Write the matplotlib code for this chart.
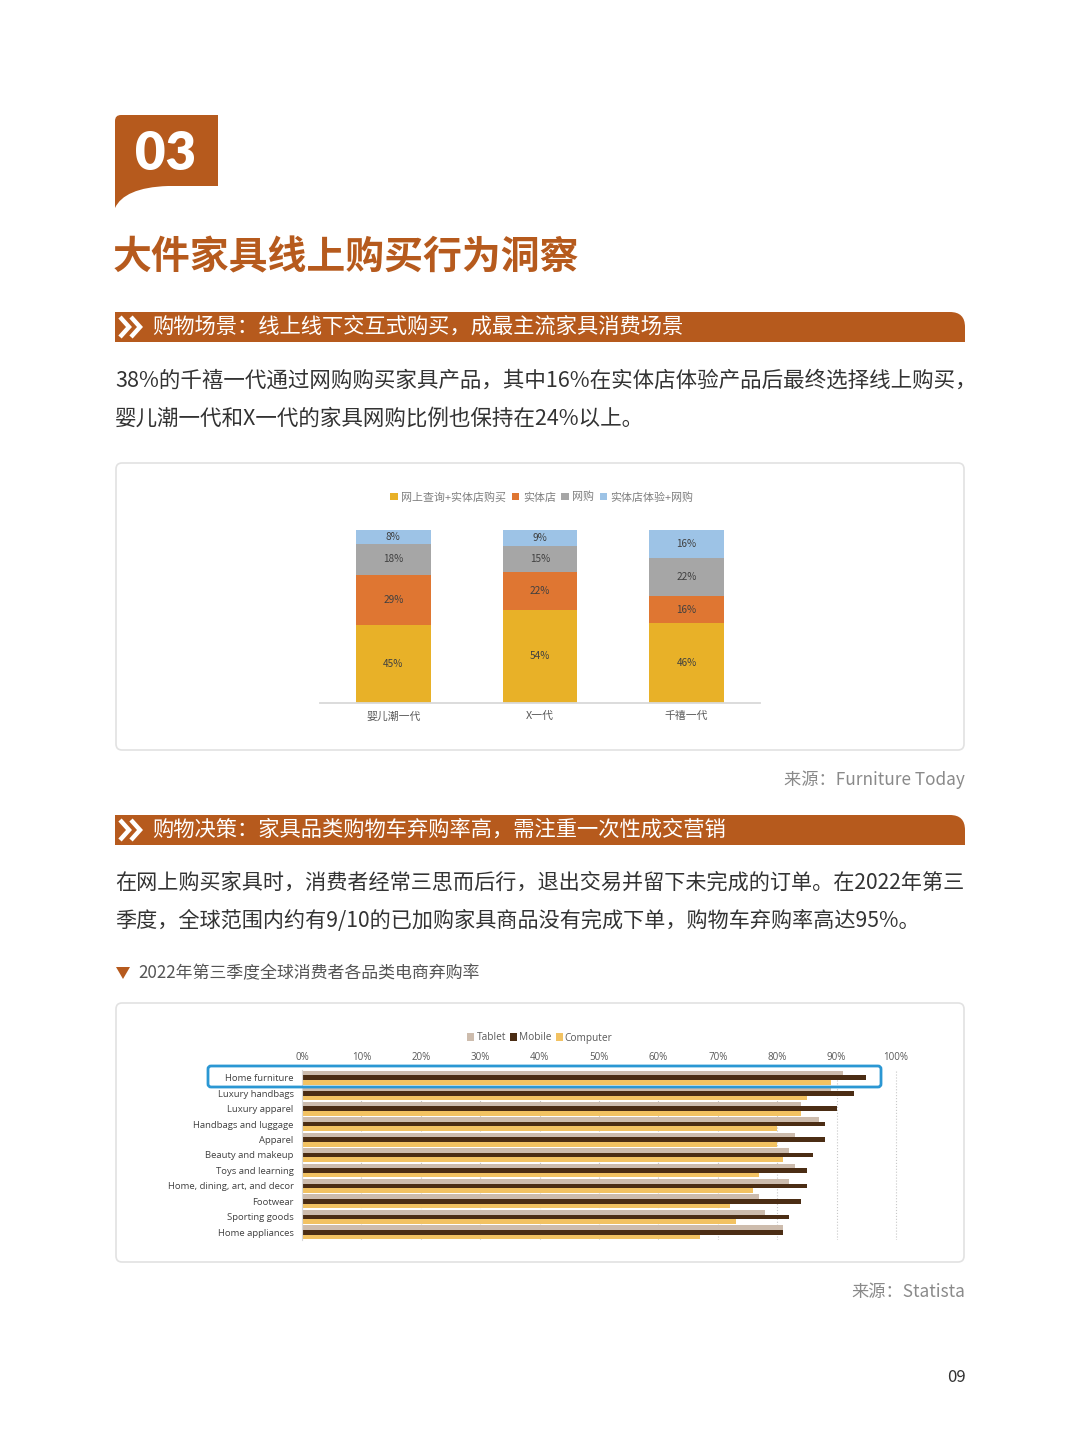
import numpy as np
import matplotlib
matplotlib.use("Agg")
import matplotlib.pyplot as plt
from matplotlib.patches import FancyBboxPatch, PathPatch, Polygon
from matplotlib.path import Path

plt.rcParams['font.family'] = ['Noto Sans CJK SC', 'DejaVu Sans']

# Размер страницы в пикселях
W, H = 1080, 1455
ACCENT = '#B65A1D'

# Данные первой диаграммы (доли, %)
generations = ['婴儿潮一代', 'X一代', '千禧一代']
series1_names = ['网上查询+实体店购买', '实体店', '网购', '实体店体验+网购']
search_then_store = [45, 54, 46]
store_only = [29, 22, 16]
online_only = [18, 15, 22]
store_then_online = [8, 9, 16]
series1_colors = ['#E8B128', '#DF7632', '#A6A6A6', '#9DC3E6']

# Данные второй диаграммы (доля брошенных корзин, %)
categories = ['Home furniture', 'Luxury handbags', 'Luxury apparel', 'Handbags and luggage',
              'Apparel', 'Beauty and makeup', 'Toys and learning', 'Home, dining, art, and decor',
              'Footwear', 'Sporting goods', 'Home appliances']
tablet = [91, 89, 84, 87, 83, 82, 83, 82, 77, 78, 81]
mobile = [95, 93, 90, 88, 88, 86, 85, 85, 84, 82, 81]
computer = [89, 85, 84, 80, 80, 81, 77, 76, 72, 73, 67]
devices = ['Tablet', 'Mobile', 'Computer']
device_colors = ['#CDBCAD', '#4B2D14', '#F2C262']
ticks2 = list(range(0, 101, 10))


def px_axes(fig, x0, y0, x1, y1, **kw):
    """Оси по пиксельным координатам страницы (y сверху вниз)."""
    return fig.add_axes([x0 / W, 1 - y1 / H, (x1 - x0) / W, (y1 - y0) / H], **kw)


def section_bar(ax, y0, text):
    # Полоса заголовка раздела со скруглённым правым верхним углом
    y1 = y0 + 30
    verts = [(115, y0), (950, y0), (965, y0), (965, y0 + 15), (965, y1), (115, y1), (115, y0)]
    codes = [Path.MOVETO, Path.LINETO, Path.CURVE3, Path.CURVE3, Path.LINETO, Path.LINETO, Path.CLOSEPOLY]
    ax.add_patch(PathPatch(Path(verts, codes), fc=ACCENT, ec='none'))
    # Двойная стрелка »
    for x0 in (120, 131):
        ax.plot([x0, x0 + 9, x0], [y0 + 5, y0 + 15, y0 + 25], color='white', lw=3.2,
                solid_joinstyle='miter', solid_capstyle='butt')
    ax.text(152, y0 + 15, text, color='white', fontsize=15.3, weight='medium', va='center', ha='left')


fig = plt.figure(figsize=(W / 100, H / 100), dpi=100)
fig.patch.set_facecolor('white')

# Фоновые оси для всего оформления страницы
bg = px_axes(fig, 0, 0, W, H)
bg.set_xlim(0, W)
bg.set_ylim(H, 0)
bg.axis('off')

# Вкладка "03"
verts = [(115, 121), (115, 115), (121, 115), (218, 115), (218, 186), (168, 186),
         (138, 187), (121, 195), (115, 208), (115, 121)]
codes = [Path.MOVETO, Path.CURVE3, Path.CURVE3, Path.LINETO, Path.LINETO, Path.LINETO,
         Path.CURVE4, Path.CURVE4, Path.CURVE4, Path.CLOSEPOLY]
bg.add_patch(PathPatch(Path(verts, codes), fc=ACCENT, ec='none'))
bg.text(165, 154, '03', color='white', fontsize=38, weight='heavy', family=['Lato', 'DejaVu Sans'],
        ha='center', va='center')

bg.text(113, 258, '大件家具线上购买行为洞察', color=ACCENT, fontsize=28, weight='bold', va='center')

section_bar(bg, 312, '购物场景：线上线下交互式购买，成最主流家具消费场景')
bg.text(115, 381, '38%的千禧一代通过网购购买家具产品，其中16%在实体店体验产品后最终选择线上购买，',
        fontsize=15.5, weight='medium', color='#333333', va='center')
bg.text(115, 419, '婴儿潮一代和X一代的家具网购比例也保持在24%以上。',
        fontsize=15.5, weight='medium', color='#333333', va='center')

# Рамки диаграмм
for y0, y1 in [(463, 750), (1003, 1262)]:
    bg.add_patch(FancyBboxPatch((116, y0), 848, y1 - y0, boxstyle='round,pad=0,rounding_size=6',
                                fc='white', ec='#E2E2E2', lw=1.2))

bg.text(965, 780, '来源：Furniture Today', fontsize=12.4, color='#8A8A8A', ha='right', va='center')

section_bar(bg, 815, '购物决策：家具品类购物车弃购率高，需注重一次性成交营销')
bg.text(115, 883, '在网上购买家具时，消费者经常三思而后行，退出交易并留下未完成的订单。在2022年第三',
        fontsize=15.2, weight='medium', color='#333333', va='center')
bg.text(115, 921, '季度，全球范围内约有9/10的已加购家具商品没有完成下单，购物车弃购率高达95%。',
        fontsize=15.2, weight='medium', color='#333333', va='center')

bg.add_patch(Polygon([(116, 967), (130, 967), (123, 979)], closed=True, fc=ACCENT, ec='none'))
bg.text(138, 973, '2022年第三季度全球消费者各品类电商弃购率', fontsize=12.2, color='#555555', va='center')

bg.text(965, 1292, '来源：Statista', fontsize=12.4, color='#8A8A8A', ha='right', va='center')
bg.text(966, 1377, '09', fontsize=12, color='#333333', ha='right', va='center')

# Диаграмма 1: структура покупок по поколениям
ax1 = px_axes(fig, 320, 530, 760, 703)
x = np.arange(len(generations))
bottom = np.zeros(len(generations))
for vals, name, col in zip([search_then_store, store_only, online_only, store_then_online],
                           series1_names, series1_colors):
    ax1.bar(x, vals, bottom=bottom, width=0.51, color=col, label=name)
    for xi, b, v in zip(x, bottom, vals):
        ax1.text(xi, b + v / 2, f'{v}%', ha='center', va='center', fontsize=7.2, color='#404040')
    bottom += np.array(vals)
ax1.set_xlim(-0.5, 2.5)
ax1.set_ylim(0, 100)
for s in ['top', 'right', 'left']:
    ax1.spines[s].set_visible(False)
ax1.spines['bottom'].set_color('#D9D9D9')
ax1.spines['bottom'].set_linewidth(1.3)
ax1.set_yticks([])
ax1.set_xticks(x, generations)
ax1.tick_params(axis='x', length=0, pad=6, labelsize=7.8, labelcolor='#595959')
ax1.patch.set_alpha(0)
h1, l1 = ax1.get_legend_handles_labels()
fig.legend(h1, l1, loc='center', bbox_to_anchor=(542 / W, 1 - 497 / H), ncol=4, frameon=False,
           fontsize=7.9, labelcolor='#7F7F7F', handlelength=0.7, handleheight=0.7,
           handletextpad=0.3, columnspacing=0.5)

# Диаграмма 2: брошенные корзины по категориям
ax2 = px_axes(fig, 302, 1070, 899, 1240)
y = np.arange(len(categories))
for vals, name, col, off in zip([tablet, mobile, computer], devices, device_colors, [-0.3, 0, 0.3]):
    ax2.barh(y + off, vals, height=0.3, color=col, label=name, zorder=2)
ax2.set_xlim(0, 100.5)
ax2.set_ylim(len(categories) - 0.5, -0.5)
ax2.xaxis.tick_top()
ax2.set_xticks(ticks2, [f'{t}%' for t in ticks2])
ax2.set_yticks(y, categories)
ax2.tick_params(axis='x', length=0, pad=5, labelsize=7, labelcolor='#595959')
ax2.tick_params(axis='y', length=0, pad=6, labelsize=6.8, labelcolor='#404040')
for lab in ax2.get_xticklabels() + ax2.get_yticklabels():
    lab.set_family(['Open Sans', 'DejaVu Sans'])
ax2.grid(axis='x', ls=':', color='#C8C8C8', lw=0.8)
ax2.set_axisbelow(True)
for s in ['top', 'right', 'bottom']:
    ax2.spines[s].set_visible(False)
ax2.spines['left'].set_color('#D8D8D8')
ax2.patch.set_alpha(0)
h2, l2 = ax2.get_legend_handles_labels()
fig.legend(h2, l2, loc='center', bbox_to_anchor=(540 / W, 1 - 1038 / H), ncol=3, frameon=False,
           labelcolor='#595959', handlelength=0.7, handleheight=0.7,
           handletextpad=0.2, columnspacing=0.4, prop={'family': ['Open Sans', 'DejaVu Sans'], 'size': 7.3})

# Синяя рамка вокруг "Home furniture" поверх всего
top = px_axes(fig, 0, 0, W, H, zorder=5)
top.set_xlim(0, W)
top.set_ylim(H, 0)
top.axis('off')
top.patch.set_alpha(0)
top.add_patch(FancyBboxPatch((208, 1066), 673, 21, boxstyle='round,pad=0,rounding_size=3',
                             fc='none', ec='#2B97D3', lw=2))

fig.savefig('out.png', dpi=100, facecolor='white')
